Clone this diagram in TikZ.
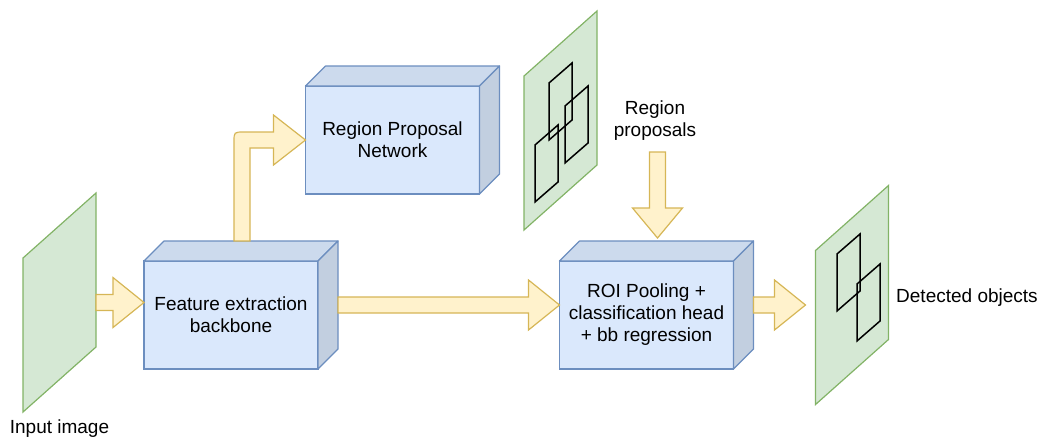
\documentclass[tikz,border=0pt]{standalone}
\usepackage{fontspec}
\setmainfont{Liberation Sans}
\usetikzlibrary{calc}

\definecolor{planefill}{HTML}{D5E8D4}
\definecolor{planeline}{HTML}{82B366}
\definecolor{boxfill}{HTML}{DAE8FC}
\definecolor{boxline}{HTML}{6C8EBF}
\definecolor{boxtop}{HTML}{CCDAED}
\definecolor{boxside}{HTML}{C2CFE0}
\definecolor{arrowfill}{HTML}{FFF2CC}
\definecolor{arrowline}{HTML}{D6B656}

\begin{document}
\begin{tikzpicture}[
    x=1pt, y=-1pt,
    font=\fontsize{19}{22}\selectfont,
    plane/.style={
        rectangle,
        minimum width=73,
        minimum height=219,
        inner sep=0pt,
        outer sep=0pt
    },
    planeface/.style={
        draw=planeline,
        fill=planefill,
        line width=1.2pt
    },
    cube/.style={
        rectangle,
        draw=boxline,
        fill=boxfill,
        line width=1.2pt,
        minimum width=174,
        minimum height=108,
        inner sep=0pt,
        outer sep=0pt,
        align=center
    },
    cubeface/.style={
        draw=boxline,
        line width=1.2pt,
        line join=round
    },
    bbox/.style={
        draw=black,
        line width=1.5pt
    },
    fatarrow/.style={
        draw=arrowline,
        fill=arrowfill,
        line width=1.2pt
    },
    fatright/.style={
        fatarrow,
        to path={($(\tikztostart)+(0,-8)$) -- ($(\tikztotarget)+(-31,-8)$)
            -- ++(0,-17) -- (\tikztotarget) -- ++(-31,25) -- ++(0,-17)
            -- ($(\tikztostart)+(0,8)$) -- cycle}
    },
    fatdown/.style={
        fatarrow,
        to path={($(\tikztostart)+(-8,0)$) -- ($(\tikztotarget)+(-8,-30)$)
            -- ++(-17,0) -- (\tikztotarget) -- ++(25,-30) -- ++(-17,0)
            -- ($(\tikztostart)+(8,0)$) -- cycle}
    }
]
\useasboundingbox (0,0) rectangle (1044,437);

% Images
\node[plane] (inimg) at (59.5,302.5) {};
\node[plane] (propimg) at (560.5,120.5) {};
\node[plane] (detimg) at (852,295) {};

\foreach \n in {inimg,propimg,detimg} {
    \draw[planeface] (\n.south west) -- ++(0,-154) -- (\n.north east)
        -- ++(0,154) -- cycle;
}

% Boxes on the images
\foreach \bx/\by in {549/83, 565/106, 535/145, 837/254, 857/284} {
    \draw[bbox] (\bx,\by) -- ++(23,-20) -- ++(0,57) -- ++(-23,20) -- cycle;
}

% Blocks
\node[cube] (backbone) at (231,315) {Feature extraction\\backbone};
\node[cube] (rpn) at (392.5,140) {Region Proposal\\Network};
\node[cube] (roi) at (646.5,315) {ROI Pooling +\\classification head\\+ bb regression};

\foreach \n in {backbone,rpn,roi} {
    \draw[cubeface, fill=boxtop] (\n.north west) -- ++(20,-20)
        -- ($(\n.north east)+(20,-20)$) -- (\n.north east) -- cycle;
    \draw[cubeface, fill=boxside] (\n.north east) -- ++(20,-20)
        -- ($(\n.south east)+(20,-20)$) -- (\n.south east) -- cycle;
}

% Labels
\node (inlabel) at (59.5,429) {Input image};
\node[align=center] (proplabel) at (655,121) {Region\\proposals};
\node[anchor=west, inner sep=2pt] (detlabel) at (894,298) {Detected objects};

% Connections
\coordinate (intip) at (inimg.east -| backbone.west);
\draw[fatright] (inimg.east) to (intip);

\coordinate (bbout) at ($(backbone.east)+(20,-10)$);
\coordinate (roiin) at (bbout -| roi.west);
\draw[fatright] (bbout) to (roiin);

\coordinate (roiout) at ($(roi.east)+(20,-10)$);
\coordinate (dettip) at ($(roiout -| detimg.west)+(-10,0)$);
\draw[fatright] (roiout) to (dettip);

\coordinate (proptip) at ($(roi.north)+(11,-23)$);
\coordinate (propstart) at ($(proptip)+(0,-86)$);
\draw[fatdown] (propstart) to (proptip);

% Bent arrow to the RPN
\coordinate (bbup) at ($(backbone.north)+(11,-20)$);
\coordinate (bend) at ($(bbup |- rpn.west)+(-8,-8)$);
\draw[fatarrow] ($(bbup)+(-8,0)$) -- ($(bend)+(0,10)$)
    .. controls (bend) .. ($(bend)+(10,0)$)
    -- ($(rpn.west)+(-32,-8)$) -- ++(0,-17) -- (rpn.west) -- ++(-32,25)
    -- ++(0,-17) -| ($(bbup)+(8,0)$) -- cycle;

\end{tikzpicture}
\end{document}
